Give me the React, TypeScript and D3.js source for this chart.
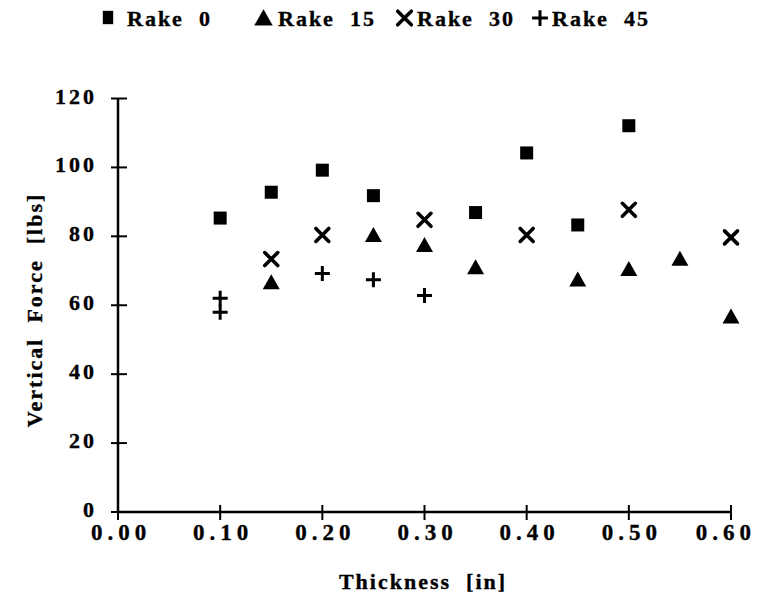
import React from "react";
import * as d3 from "d3";

const xTicks = [0, 0.1, 0.2, 0.3, 0.4, 0.5, 0.6];
const yTicks = [0, 20, 40, 60, 80, 100, 120];

const rake0X = [0.1, 0.15, 0.2, 0.25, 0.35, 0.4, 0.45, 0.5];
const rake0Y = [85.3, 92.8, 99.2, 91.8, 86.9, 104.2, 83.3, 112.1];

const rake15X = [0.15, 0.25, 0.3, 0.35, 0.45, 0.5, 0.55, 0.6];
const rake15Y = [66.7, 80.4, 77.5, 71.0, 67.5, 70.5, 73.5, 56.7];

const rake30X = [0.15, 0.2, 0.3, 0.4, 0.5, 0.6];
const rake30Y = [73.4, 80.4, 84.8, 80.4, 87.7, 79.7];

const rake45X = [0.1, 0.1, 0.2, 0.25, 0.3];
const rake45Y = [62.0, 58.0, 69.2, 67.4, 62.8];

const legendLabels = ["Rake 0", "Rake 15", "Rake 30", "Rake 45"];

const FONT = "'Liberation Serif', 'Times New Roman', serif";

function Marker({ kind, x, y, scale = 1 }: { kind: string; x: number; y: number; scale?: number }) {
  if (kind === "square") {
    const h = 6.5 * scale;
    return <rect x={x - h} y={y - h} width={2 * h} height={2 * h} fill="#000" />;
  }
  if (kind === "triangle") {
    const w = 8.5 * scale;
    return (
      <path
        d={`M${x},${y - 8 * scale} L${x + w},${y + 7 * scale} L${x - w},${y + 7 * scale} Z`}
        fill="#000"
      />
    );
  }
  if (kind === "cross") {
    const s = 6.5 * scale;
    return (
      <path
        d={`M${x - s},${y - s} L${x + s},${y + s} M${x - s},${y + s} L${x + s},${y - s}`}
        stroke="#000"
        strokeWidth={3.6}
        strokeLinecap="round"
      />
    );
  }
  const s = 7.5 * scale;
  return (
    <path
      d={`M${x - s},${y} L${x + s},${y} M${x},${y - s} L${x},${y + s}`}
      stroke="#000"
      strokeWidth={3}
    />
  );
}

export default function App() {
  const W = 757;
  const H = 599;
  const x = d3.scaleLinear().domain([0, 0.6]).range([118, 731]);
  const y = d3.scaleLinear().domain([0, 120]).range([512, 98.5]);

  const series = [
    { kind: "square", xs: rake0X, ys: rake0Y },
    { kind: "triangle", xs: rake15X, ys: rake15Y },
    { kind: "cross", xs: rake30X, ys: rake30Y },
    { kind: "plus", xs: rake45X, ys: rake45Y },
  ];

  const legendPos = [
    { mx: 108, tx: 127 },
    { mx: 263.5, tx: 278 },
    { mx: 404.5, tx: 417 },
    { mx: 540, tx: 552 },
  ];

  const textStyle = { whiteSpace: "pre" as const };

  return (
    <svg
      width={W}
      height={H}
      style={{ position: "absolute", left: 0, top: 0, background: "#fff" }}
      fontFamily={FONT}
    >
      <rect x={0} y={0} width={W} height={H} fill="#fff" />
      <g stroke="#000" strokeWidth={0.35} fill="#000">
        {/* legend */}
        {series.map((s, i) => (
          <g key={"lg" + i}>
            {s.kind === "square" ? (
              <rect x={103} y={11} width={10} height={13} fill="#000" />
            ) : (
              <Marker kind={s.kind} x={legendPos[i].mx} y={18} scale={1.05} />
            )}
            <text
              x={legendPos[i].tx}
              y={26}
              fontSize={22}
              fontWeight="bold"
              letterSpacing={2}
              style={textStyle}
            >
              {legendLabels[i].replace(" ", "  ")}
            </text>
          </g>
        ))}

        {yTicks.map((t) => (
          <text
            key={"ytl" + t}
            x={97}
            y={y(t) + 5}
            textAnchor="end"
            fontSize={22}
            fontWeight="bold"
            letterSpacing={3}
          >
            {t}
          </text>
        ))}

        {xTicks.map((t, i) => {
          const last = i === xTicks.length - 1;
          return (
            <text
              key={"xtl" + t}
              x={last ? 756 : x(t) + 3}
              y={y(0) + 28}
              textAnchor={last ? "end" : "middle"}
              fontSize={23}
              fontWeight="bold"
              letterSpacing={5}
            >
              {t.toFixed(2)}
            </text>
          );
        })}

        <text
          x={423}
          y={589}
          textAnchor="middle"
          fontSize={22}
          fontWeight="bold"
          letterSpacing={2}
          style={textStyle}
        >
          {"Thickness  [in]"}
        </text>
        <text
          transform={`translate(42, ${310}) rotate(-90)`}
          textAnchor="middle"
          fontSize={22}
          fontWeight="bold"
          letterSpacing={2}
          style={textStyle}
        >
          {"Vertical  Force  [lbs]"}
        </text>
      </g>

      {/* axes */}
      <line x1={x(0)} y1={y(0)} x2={x(0.6)} y2={y(0)} stroke="#000" strokeWidth={2.5} />
      <line x1={x(0)} y1={y(0)} x2={x(0)} y2={y(120)} stroke="#000" strokeWidth={2.5} />
      {yTicks.map((t) => (
        <line key={"yt" + t} x1={x(0) - 7} x2={x(0) + 9} y1={y(t)} y2={y(t)} stroke="#000" strokeWidth={2} />
      ))}
      {xTicks.map((t) => (
        <line key={"xt" + t} x1={x(t)} x2={x(t)} y1={y(0) - 7} y2={y(0) + 8} stroke="#000" strokeWidth={2} />
      ))}

      {/* points */}
      {series.map((s, i) =>
        s.xs.map((xv, j) => (
          <Marker key={`p${i}-${j}`} kind={s.kind} x={x(xv)} y={y(s.ys[j])} />
        ))
      )}
    </svg>
  );
}
